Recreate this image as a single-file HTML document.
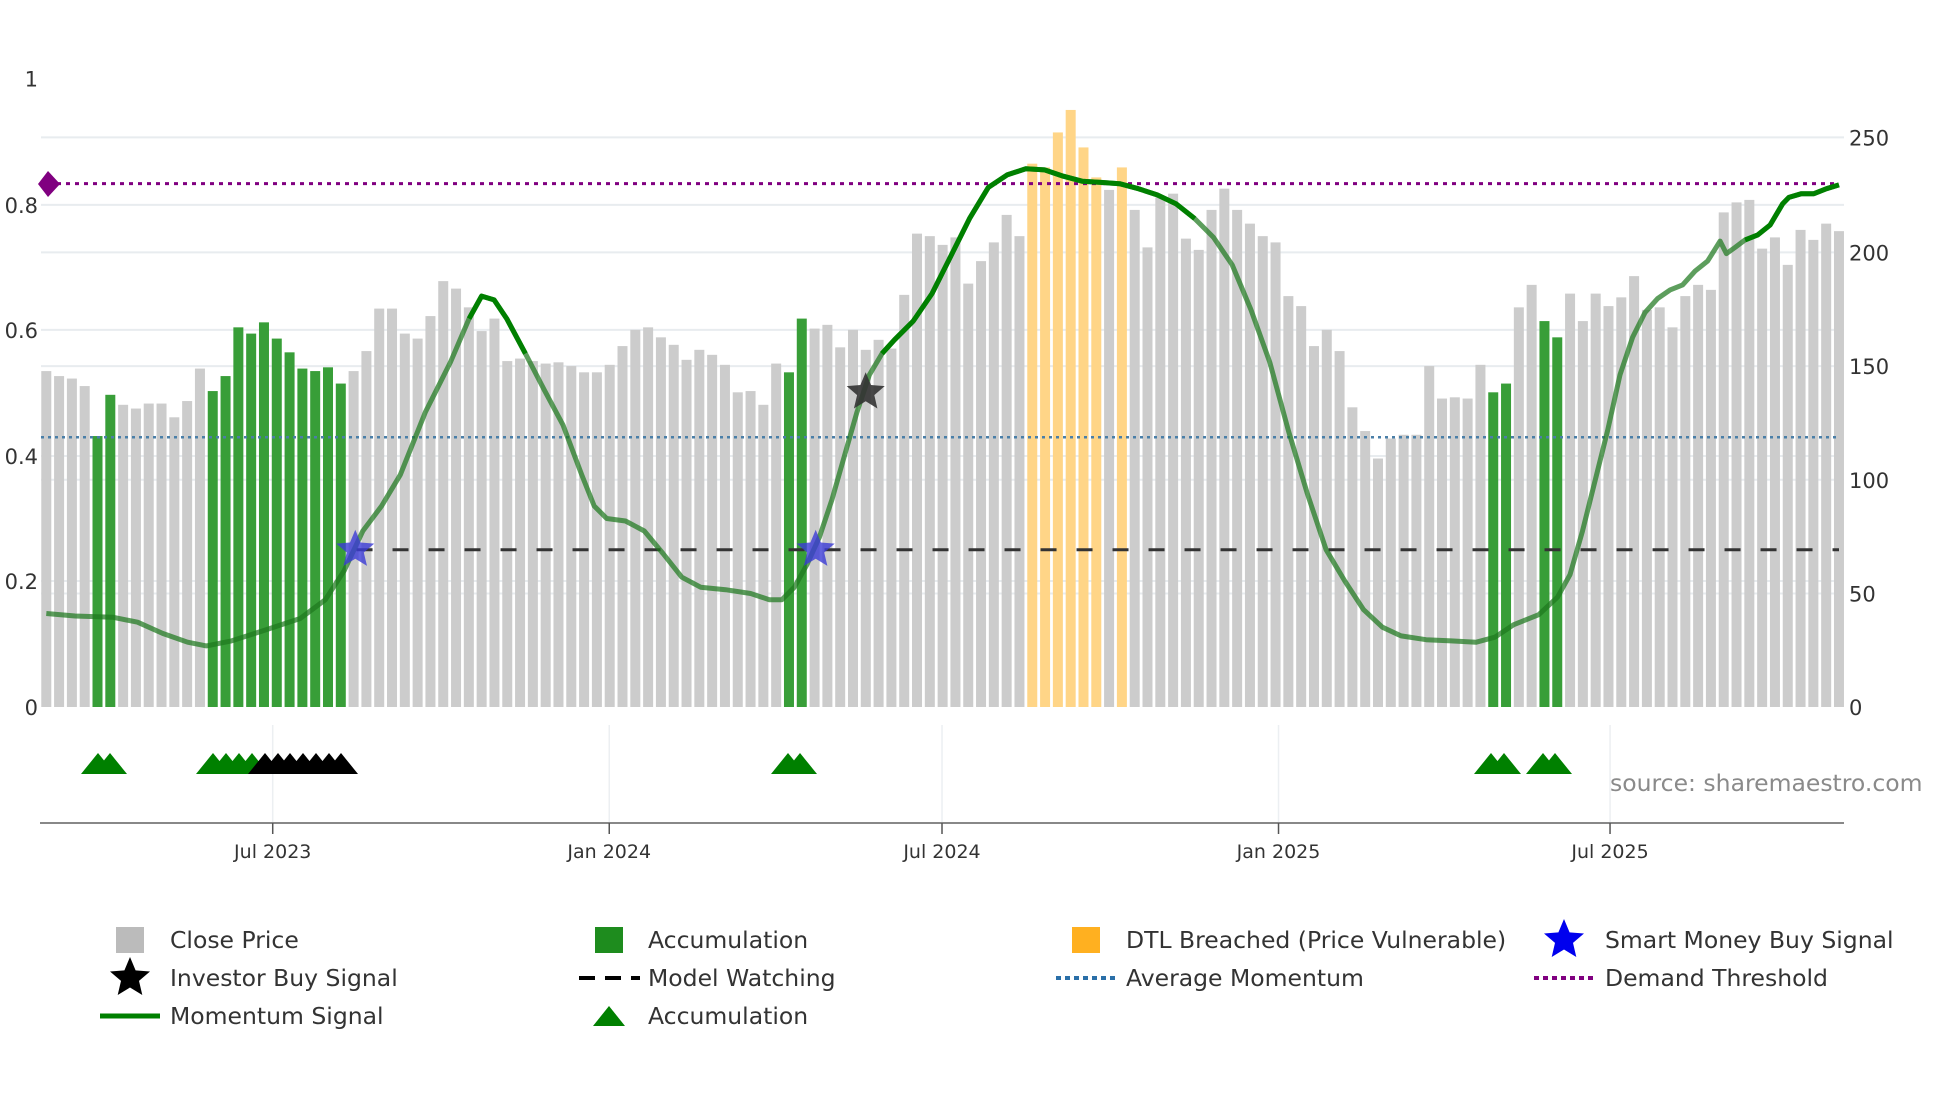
<!DOCTYPE html>
<html><head><meta charset="utf-8"><style>
body{margin:0;background:#fff;}
svg text{font-family:"DejaVu Sans","Liberation Sans",sans-serif;}
</style></head><body>
<svg id="s" width="1960" height="1102" xmlns="http://www.w3.org/2000/svg"></svg>
<script>
const S=document.getElementById('s');
let h='';
const fx=1.251, fy=1.2494;
const X=x=>x*fx, Y=y=>y*fy;
const R=1844;
[110,164,202,264,293,365,384,465,475].forEach(g=>{h+=`<line x1="41" x2="${R}" y1="${Y(g)}" y2="${Y(g)}" stroke="#e8ecef" stroke-width="2"/>`;});
[218,487,753,1022,1287].forEach(t=>{h+=`<line x1="${X(t)}" x2="${X(t)}" y1="725" y2="823" stroke="#eceff2" stroke-width="1.5"/>`;});
const tops=[297,301,303,309,349,316,324,327,323,323,334,321,295,313,301,262,267,258,271,282,295,297,294,307,297,281,247,247,267,271,253,225,231,246,265,255,289,287,289,291,290,293,298,298,292,277,264,262,270,276,288,280,284,292,314,313,324,291,298,255,263,260,278,264,280,272,279,236,187,189,196,190,227,209,194,172,189,131,134,106,88,118,142,152,134,168,198,158,155,191,200,168,151,168,179,189,194,237,245,277,264,281,326,345,367,351,348,348,293,319,318,319,292,314,307,246,228,257,270,235,257,235,245,238,221,248,246,262,237,228,232,170,162,160,199,190,212,184,192,179,185];
const green=new Set([5,6,14,15,16,17,18,19,20,21,22,23,24,59,60,114,115,118,119]);
const orange=new Set([78,79,80,81,82,83,85]);
const n0=tops.length, b0=X(37), b1=X(1470), sp=(b1-b0)/(n0-1);
tops.forEach((t,i)=>{const n=i+1;const cx=b0+i*sp;let c='#cccccc';if(green.has(n))c='#389e38';if(orange.has(n))c='#ffd587';
h+=`<rect x="${cx-5}" y="${Y(t)}" width="10" height="${707-Y(t)}" fill="${c}"/>`;});
h+=`<line x1="48" x2="${R-5}" y1="${Y(147)}" y2="${Y(147)}" stroke="#800080" stroke-width="3" stroke-dasharray="4,5"/>`;
h+=`<line x1="41" x2="${R-5}" y1="${Y(350)}" y2="${Y(350)}" stroke="#4a7fa8" stroke-width="2.5" stroke-dasharray="3,4"/>`;
h+=`<line x1="${X(285)}" x2="${R-5}" y1="${Y(440)}" y2="${Y(440)}" stroke="#333" stroke-width="3" stroke-dasharray="16,20"/>`;
const P=[[37,491],[60,493],[90,494],[110,498],[130,507],[150,514],[165,517],[185,513],[210,505],[240,495],[260,480],[275,457],[290,425],[305,405],[320,380],[340,330],[360,290],[375,255],[385,237],[395,240],[405,255],[420,283],[435,312],[450,340],[465,380],[475,405],[485,415],[500,417],[515,425],[530,443],[545,462],[560,470],[580,472],[600,475],[615,480],[625,480],[635,470],[645,452],[655,430],[665,400],[675,365],[685,330],[695,300],[705,283],[715,272],[730,257],[745,235],[760,205],[775,175],[790,150],[805,140],[820,135],[835,136],[850,141],[865,145],[880,146],[895,147],[910,151],[925,156],[940,163],[955,175],[970,190],[985,212],[1000,248],[1015,290],[1030,345],[1045,395],[1060,440],[1075,465],[1090,488],[1105,502],[1120,509],[1140,512],[1160,513],[1180,514],[1195,510],[1210,500],[1230,492],[1245,478],[1255,460],[1265,425],[1275,385],[1285,345],[1295,300],[1305,270],[1315,250],[1325,239],[1335,232],[1345,228],[1355,217],[1365,209],[1375,193],[1380,203],[1387,198],[1395,192],[1405,188],[1415,180],[1425,163],[1430,158],[1440,155],[1450,155],[1460,151],[1470,148]];
const pts=a=>a.map(p=>X(p[0]).toFixed(1)+','+Y(p[1]).toFixed(1)).join(' ');
h+=`<polyline points="${pts(P)}" fill="none" stroke="rgba(30,120,30,0.72)" stroke-width="5" stroke-linejoin="round"/>`;
const seg=(a,b)=>P.filter(p=>p[0]>=a&&p[0]<=b);
[[375,430],[705,960],[1395,1470]].forEach(r=>{h+=`<polyline points="${pts(seg(r[0],r[1]))}" fill="none" stroke="#008000" stroke-width="5" stroke-linejoin="round"/>`;});
function star(cx,cy,r,c,op){let s='';for(let k=0;k<10;k++){const a=-Math.PI/2+k*Math.PI/5;const rr=k%2?r*0.45:r;s+=(cx+rr*Math.cos(a)).toFixed(1)+','+(cy+rr*Math.sin(a)).toFixed(1)+' ';}return `<polygon points="${s}" fill="${c}" fill-opacity="${op}"/>`;}
h+=star(X(284),Y(440),20,'#3b3bd6',0.8)+star(X(652),Y(440),20,'#3b3bd6',0.8)+star(X(692),Y(314),20,'#333',0.9);
h+=`<polygon points="38,184 48,171 60,184 48,197" fill="#800080"/>`;
h+=`<line x1="40" x2="${R}" y1="823" y2="823" stroke="#888" stroke-width="2"/>`;
[218,487,753,1022,1287].forEach((t,i)=>{const lab=['Jul 2023','Jan 2024','Jul 2024','Jan 2025','Jul 2025'][i];h+=`<line x1="${X(t)}" x2="${X(t)}" y1="823" y2="834" stroke="#555" stroke-width="1.5"/><text x="${X(t)}" y="858" font-size="19" fill="#333" text-anchor="middle">${lab}</text>`;});
function tri(x,c){return `<polygon points="${x-17},774 ${x},753 ${x+17},774" fill="${c}"/>`;}
[98,110,213,226,239,252,788,800,1491,1504,1543,1555].forEach(x=>h+=tri(x,'#008000'));
[265,278,290,303,316,329,341].forEach(x=>h+=tri(x,'#000'));
h+=`<text x="1610" y="791" font-size="23.5" fill="#8a8a8a">source: sharemaestro.com</text>`;
[['1',63],['0.8',164],['0.6',264],['0.4',365],['0.2',465],['0',566]].forEach(l=>h+=`<text x="38" y="${Y(l[1])+8}" font-size="21" fill="#333" text-anchor="end">${l[0]}</text>`);
[['250',110],['200',202],['150',293],['100',384],['50',475],['0',566]].forEach(l=>h+=`<text x="1849" y="${Y(l[1])+8}" font-size="21" fill="#333">${l[0]}</text>`);
const ly=[940,978,1016];
function lt(x,y,t){h+=`<text x="${x}" y="${y+8}" font-size="23.5" fill="#333">${t}</text>`;}
h+=`<rect x="116" y="927" width="28" height="26" fill="#bbb"/>`;lt(170,ly[0],'Close Price');
h+=`<rect x="595" y="927" width="28" height="26" fill="#1e8c1e"/>`;lt(648,ly[0],'Accumulation');
h+=`<rect x="1072" y="927" width="28" height="26" fill="#ffb020"/>`;lt(1126,ly[0],'DTL Breached (Price Vulnerable)');
h+=star(1564,ly[0],21,'#0000ee',1);lt(1605,ly[0],'Smart Money Buy Signal');
h+=star(130,ly[1],21,'#000',1);lt(170,ly[1],'Investor Buy Signal');
h+=`<line x1="579" x2="640" y1="${ly[1]}" y2="${ly[1]}" stroke="#000" stroke-width="4" stroke-dasharray="16,10"/>`;lt(648,ly[1],'Model Watching');
h+=`<line x1="1056" x2="1116" y1="${ly[1]}" y2="${ly[1]}" stroke="#2a6fa8" stroke-width="4" stroke-dasharray="5,4"/>`;lt(1126,ly[1],'Average Momentum');
h+=`<line x1="1534" x2="1594" y1="${ly[1]}" y2="${ly[1]}" stroke="#800080" stroke-width="4" stroke-dasharray="5,4"/>`;lt(1605,ly[1],'Demand Threshold');
h+=`<line x1="100" x2="160" y1="${ly[2]}" y2="${ly[2]}" stroke="#008000" stroke-width="5"/>`;lt(170,ly[2],'Momentum Signal');
h+=`<polygon points="593,1026 609,1006 625,1026" fill="#008000"/>`;lt(648,ly[2],'Accumulation');
S.innerHTML=h;
</script>
</body></html>
